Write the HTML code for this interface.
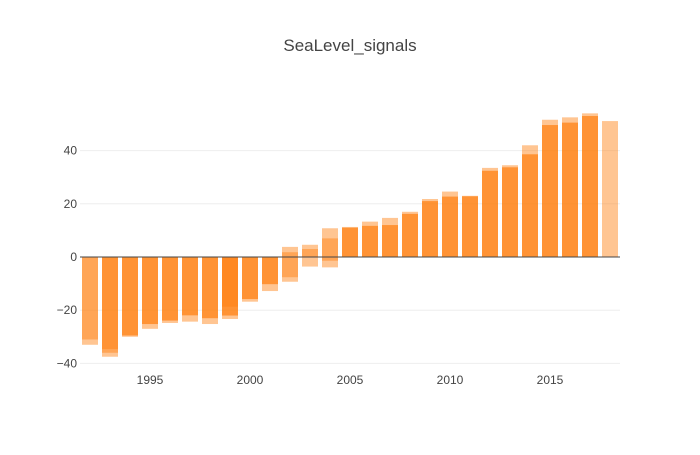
<!DOCTYPE html>
<html><head><meta charset="utf-8"><style>
body{margin:0;background:#fff}
svg text{font-family:"Liberation Sans",sans-serif;fill:#444}
</style></head><body>
<svg id="chart" width="700" height="450">
<text x="350" y="51" text-anchor="middle" font-size="17">SeaLevel_signals</text>
<g id="grid"></g><g id="bars"></g><g id="axes"></g>
</svg>
<script>
const years=[1992,1993,1994,1995,1996,1997,1998,1999,2000,2001,2002,2003,2004,2005,2006,2007,2008,2009,2010,2011,2012,2013,2014,2015,2016,2017,2018];
const seriesA=[-33,-37.5,-30,-27,-24.8,-24.3,-25.2,-23.3,-16.8,-12.8,3.8,4.6,10.8,11.3,13.3,14.7,17,21.8,24.6,23,33.5,34.5,42,51.6,52.5,54,51.1];
const seriesB=[-31,-36,-29.5,-25.2,-24,-22,-23,-22,-15.8,-10.2,1.8,3,7,11,11.7,12,16.2,21,22.7,22.8,32.4,33.7,38.6,49.6,50.5,53,null];
const seriesC=[null,-34.6,-29.5,-25.2,-23.7,-21.8,-23,-18.7,-15.8,-10.2,-9.3,-3.6,-3.9,11,11.7,12,16.2,21,22.7,22.8,32.4,33.7,38.6,49.6,50.5,53,null];
const seriesD=[null,null,null,null,null,null,null,-22,null,null,-7.6,null,-1.4,null,null,null,null,null,null,null,null,null,null,null,null,null,null];
const yTicks=[-40,-20,0,20,40];
const xTicks=[1995,2000,2005,2010,2015];
const NS="http://www.w3.org/2000/svg";
const xs=v=>80+(v-1991.5)*20;
const ys=v=>257-v*2.66;
function mk(tag,attrs,parent){const e=document.createElementNS(NS,tag);for(const k in attrs)e.setAttribute(k,attrs[k]);parent.appendChild(e);return e;}
const grid=document.getElementById('grid'),bars=document.getElementById('bars'),axes=document.getElementById('axes');
yTicks.forEach(t=>{
 if(t!==0){const l=mk('line',{x1:80,x2:620,y1:ys(t),y2:ys(t),stroke:'#eee','stroke-width':1},grid);
 
 }
 const tx=mk('text',{x:77,y:ys(t)+4,'text-anchor':'end','font-size':12},axes);tx.textContent=t===0?'0':(t<0?'−'+(-t):t);
 
 
});
xTicks.forEach(t=>{const tx=mk('text',{x:xs(t),y:384,'text-anchor':'middle','font-size':12},axes);tx.textContent=t;
 
 });
[seriesA,seriesB,seriesC,seriesD].forEach((s,si)=>{
 s.forEach((v,i)=>{if(v===null)return;
  const y0=ys(0),y1=ys(v);
  const r=mk('rect',{x:xs(years[i])-8,y:Math.min(y0,y1),width:16,height:Math.abs(y1-y0),fill:'#ff7f0e','fill-opacity':0.45},bars);
  
  
 });
});
const z=mk('line',{x1:80,x2:620,y1:ys(0),y2:ys(0),stroke:'#444','stroke-width':1},axes);


</script>
</body></html>
